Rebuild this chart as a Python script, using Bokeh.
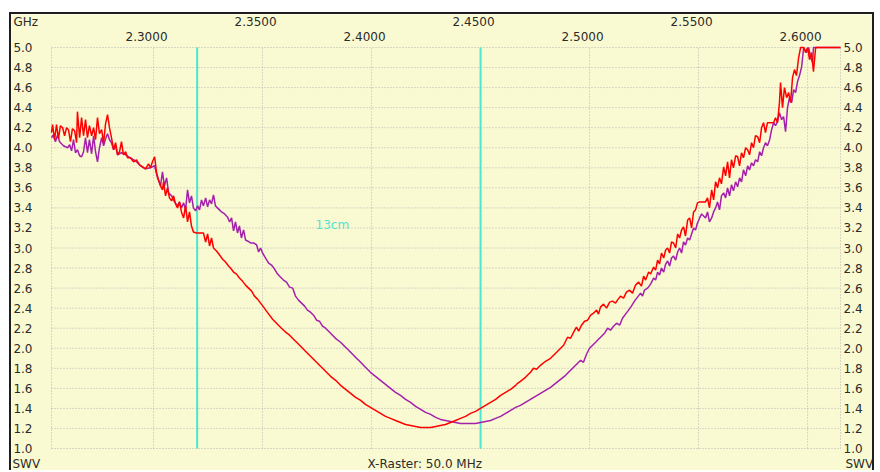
from bokeh.plotting import figure
from bokeh.models import Range1d
from bokeh.core.properties import value
from bokeh.embed import file_html
from bokeh.resources import INLINE

# ---------------- data (frequency in MHz, SWR) ----------------
red_points = [
    (2253.2, 4.15), (2253.7, 4.23), (2254.6, 4.08), (2255.5, 4.23), (2256.4, 4.09), (2257.3, 4.22),
    (2258.3, 4.20), (2259.2, 4.12), (2260.1, 4.20), (2261.0, 4.18), (2261.9, 4.06), (2262.8, 4.19),
    (2263.8, 4.17), (2264.7, 4.05), (2265.1, 4.36), (2266.1, 4.10), (2267.0, 4.30), (2267.9, 4.12),
    (2268.8, 4.28), (2269.7, 4.10), (2270.6, 4.22), (2271.6, 4.12), (2272.5, 4.20), (2273.4, 4.08),
    (2274.3, 4.30), (2275.2, 4.14), (2276.2, 4.18), (2277.1, 4.05), (2278.0, 4.24), (2278.9, 4.33),
    (2279.8, 4.20), (2280.7, 4.10), (2281.7, 3.98), (2282.6, 4.05), (2283.5, 3.93), (2284.4, 3.96),
    (2285.3, 4.06), (2286.2, 3.93), (2287.2, 3.96), (2288.1, 3.90), (2289.4, 3.90), (2290.8, 3.86),
    (2292.2, 3.88), (2293.6, 3.83), (2295.0, 3.81), (2296.3, 3.79), (2297.7, 3.84), (2298.6, 3.80),
    (2299.5, 3.86), (2300.5, 3.91), (2301.4, 3.75), (2302.3, 3.68), (2303.2, 3.62), (2304.1, 3.58),
    (2304.6, 3.66), (2305.5, 3.52), (2306.4, 3.60), (2307.3, 3.50), (2308.3, 3.47), (2309.2, 3.52),
    (2310.1, 3.44), (2311.0, 3.40), (2311.9, 3.46), (2312.8, 3.36), (2313.8, 3.30), (2314.7, 3.42),
    (2315.6, 3.26), (2316.5, 3.36), (2317.4, 3.22), (2318.3, 3.16), (2319.7, 3.15), (2321.6, 3.15),
    (2322.9, 3.15), (2323.9, 3.06), (2324.8, 3.14), (2325.7, 3.02), (2326.6, 3.10), (2327.5, 3.00),
    (2328.9, 2.97), (2330.3, 2.93), (2331.6, 2.89), (2333.0, 2.86), (2334.4, 2.82), (2335.3, 2.80),
    (2336.7, 2.76), (2338.1, 2.74), (2339.4, 2.70), (2340.8, 2.67), (2342.2, 2.63), (2343.6, 2.60),
    (2345.0, 2.57), (2346.3, 2.52), (2347.7, 2.49), (2349.1, 2.45), (2350.5, 2.41), (2351.8, 2.37),
    (2353.2, 2.33), (2354.6, 2.29), (2356.0, 2.26), (2357.3, 2.23), (2358.7, 2.20), (2360.6, 2.16),
    (2362.4, 2.13), (2364.2, 2.09), (2366.1, 2.05), (2367.9, 2.01), (2369.7, 1.97), (2372.0, 1.92),
    (2374.3, 1.87), (2376.6, 1.82), (2378.9, 1.77), (2381.2, 1.72), (2383.5, 1.68), (2385.8, 1.63),
    (2388.1, 1.59), (2390.4, 1.55), (2392.7, 1.51), (2395.0, 1.48), (2397.2, 1.44), (2399.5, 1.41),
    (2401.8, 1.38), (2404.1, 1.35), (2406.4, 1.32), (2408.7, 1.30), (2411.0, 1.28), (2413.3, 1.26),
    (2415.6, 1.24), (2417.9, 1.23), (2420.2, 1.22), (2422.5, 1.21), (2424.8, 1.21), (2427.1, 1.21),
    (2429.4, 1.22), (2431.6, 1.23), (2433.9, 1.24), (2436.2, 1.26), (2438.5, 1.28), (2440.8, 1.30),
    (2443.1, 1.32), (2445.4, 1.35), (2447.7, 1.37), (2450.0, 1.40), (2452.3, 1.43), (2454.6, 1.46),
    (2456.9, 1.49), (2459.2, 1.53), (2461.5, 1.56), (2463.8, 1.59), (2466.1, 1.63), (2467.0, 1.65),
    (2468.3, 1.67), (2470.6, 1.71), (2472.9, 1.76), (2474.3, 1.80), (2475.7, 1.79), (2477.5, 1.83),
    (2479.8, 1.87), (2482.1, 1.90), (2483.5, 1.93), (2484.9, 1.96), (2486.7, 2.00), (2488.1, 2.03),
    (2489.9, 2.11), (2491.3, 2.10), (2492.7, 2.16), (2494.0, 2.21), (2495.0, 2.17), (2496.3, 2.23),
    (2497.7, 2.27), (2499.1, 2.28), (2500.5, 2.33), (2501.8, 2.35), (2503.2, 2.38), (2504.1, 2.34),
    (2505.0, 2.41), (2506.4, 2.44), (2507.8, 2.40), (2509.2, 2.46), (2510.5, 2.47), (2511.9, 2.45),
    (2512.8, 2.48), (2514.2, 2.52), (2515.6, 2.50), (2516.9, 2.56), (2518.3, 2.58), (2519.7, 2.55),
    (2521.1, 2.63), (2522.5, 2.66), (2523.8, 2.62), (2524.8, 2.72), (2525.7, 2.68), (2527.1, 2.76),
    (2528.0, 2.74), (2529.4, 2.81), (2530.3, 2.78), (2531.2, 2.88), (2532.1, 2.84), (2533.0, 2.95),
    (2534.0, 2.90), (2534.9, 2.98), (2535.8, 3.00), (2536.7, 2.95), (2537.6, 3.06), (2538.5, 3.05),
    (2539.5, 3.00), (2540.4, 3.14), (2541.3, 3.10), (2542.2, 3.18), (2543.1, 3.21), (2544.0, 3.12),
    (2545.0, 3.28), (2545.9, 3.30), (2546.8, 3.20), (2547.7, 3.36), (2548.6, 3.38), (2549.5, 3.45),
    (2550.5, 3.46), (2551.8, 3.46), (2553.2, 3.46), (2554.1, 3.50), (2555.0, 3.40), (2556.0, 3.58),
    (2556.9, 3.48), (2557.8, 3.66), (2558.7, 3.60), (2559.6, 3.70), (2560.5, 3.64), (2561.5, 3.81),
    (2562.4, 3.72), (2563.3, 3.86), (2564.2, 3.70), (2565.1, 3.88), (2566.0, 3.80), (2567.0, 3.92),
    (2567.9, 3.91), (2568.8, 3.82), (2569.7, 3.95), (2570.6, 3.90), (2571.6, 4.00), (2572.5, 3.98),
    (2573.4, 3.93), (2574.3, 4.05), (2575.2, 4.00), (2576.1, 4.12), (2577.1, 4.11), (2578.0, 4.05),
    (2578.9, 4.20), (2579.8, 4.25), (2580.7, 4.15), (2581.6, 4.25), (2583.0, 4.25), (2584.4, 4.25),
    (2585.3, 4.30), (2586.2, 4.25), (2587.1, 4.45), (2587.6, 4.65), (2588.5, 4.40), (2589.4, 4.60),
    (2590.4, 4.50), (2591.3, 4.55), (2592.2, 4.45), (2593.1, 4.70), (2594.0, 4.78), (2594.9, 4.72),
    (2595.9, 4.90), (2596.8, 5.00), (2598.2, 5.00), (2599.1, 4.95), (2600.0, 5.00), (2600.9, 4.88),
    (2601.8, 4.95), (2602.7, 4.76), (2603.7, 5.00), (2615.1, 5.00),
]

purple_points = [
    (2253.2, 4.10), (2254.1, 4.13), (2255.0, 4.06), (2256.0, 4.13), (2256.9, 4.06), (2257.8, 4.04),
    (2258.7, 4.02), (2259.6, 4.01), (2260.6, 4.00), (2261.5, 4.03), (2262.4, 3.97), (2263.3, 4.08),
    (2264.2, 3.95), (2265.1, 3.98), (2266.1, 3.92), (2267.0, 3.91), (2267.9, 3.96), (2268.8, 4.10),
    (2269.7, 3.95), (2270.6, 4.08), (2271.6, 3.94), (2272.5, 4.12), (2273.4, 3.96), (2274.3, 3.86),
    (2275.2, 4.00), (2276.2, 4.10), (2277.1, 4.02), (2278.0, 4.09), (2278.9, 4.14), (2279.8, 4.08),
    (2280.7, 4.05), (2281.7, 3.98), (2282.6, 4.02), (2283.5, 3.93), (2285.3, 3.95), (2287.2, 3.93),
    (2289.4, 3.90), (2291.7, 3.87), (2294.0, 3.82), (2296.3, 3.79), (2298.6, 3.80), (2300.5, 3.82),
    (2301.8, 3.70), (2303.2, 3.62), (2304.1, 3.76), (2305.0, 3.62), (2306.0, 3.70), (2306.9, 3.55),
    (2308.3, 3.52), (2309.6, 3.46), (2311.0, 3.42), (2311.9, 3.46), (2312.8, 3.40), (2313.8, 3.45),
    (2314.7, 3.38), (2315.6, 3.58), (2316.5, 3.45), (2317.4, 3.52), (2318.3, 3.40), (2319.3, 3.37),
    (2320.2, 3.42), (2321.1, 3.38), (2322.0, 3.48), (2322.9, 3.42), (2323.9, 3.50), (2324.8, 3.41),
    (2325.7, 3.48), (2326.6, 3.44), (2327.5, 3.53), (2328.4, 3.42), (2329.8, 3.39), (2331.2, 3.36),
    (2332.6, 3.34), (2333.9, 3.31), (2334.9, 3.26), (2335.8, 3.30), (2336.7, 3.17), (2337.6, 3.26),
    (2338.5, 3.15), (2339.4, 3.22), (2340.3, 3.10), (2341.3, 3.18), (2342.2, 3.08), (2343.1, 3.07),
    (2344.5, 3.05), (2345.9, 3.05), (2347.3, 3.03), (2348.2, 2.96), (2349.1, 3.00), (2350.0, 2.95),
    (2351.4, 2.90), (2352.8, 2.85), (2354.1, 2.83), (2355.5, 2.79), (2356.9, 2.74), (2358.2, 2.71),
    (2359.6, 2.68), (2361.0, 2.66), (2362.4, 2.61), (2363.8, 2.60), (2365.1, 2.52), (2366.5, 2.48),
    (2367.9, 2.45), (2369.3, 2.42), (2370.6, 2.38), (2372.0, 2.36), (2373.4, 2.33), (2374.8, 2.28),
    (2376.1, 2.27), (2377.5, 2.22), (2378.9, 2.20), (2380.3, 2.17), (2382.1, 2.13), (2383.9, 2.09),
    (2385.8, 2.06), (2387.6, 2.02), (2389.5, 1.98), (2391.3, 1.94), (2393.1, 1.90), (2395.0, 1.86),
    (2397.2, 1.81), (2399.5, 1.76), (2401.8, 1.72), (2404.1, 1.68), (2406.4, 1.64), (2408.7, 1.60),
    (2411.0, 1.56), (2413.3, 1.53), (2415.6, 1.49), (2417.9, 1.46), (2420.2, 1.42), (2422.5, 1.39),
    (2424.8, 1.36), (2427.1, 1.34), (2429.4, 1.31), (2431.6, 1.29), (2433.9, 1.28), (2436.2, 1.27),
    (2438.5, 1.26), (2440.8, 1.25), (2443.1, 1.25), (2445.4, 1.25), (2447.7, 1.25), (2450.0, 1.26),
    (2452.3, 1.27), (2454.6, 1.28), (2456.9, 1.30), (2459.2, 1.32), (2461.5, 1.35), (2463.8, 1.38),
    (2466.1, 1.41), (2468.3, 1.43), (2470.6, 1.46), (2472.9, 1.49), (2475.2, 1.52), (2477.5, 1.55),
    (2479.8, 1.58), (2482.1, 1.61), (2484.4, 1.65), (2486.7, 1.69), (2489.0, 1.73), (2491.3, 1.78),
    (2493.6, 1.83), (2495.9, 1.88), (2497.2, 1.86), (2498.6, 1.94), (2500.0, 2.00), (2501.4, 2.03),
    (2502.8, 2.06), (2504.1, 2.09), (2505.5, 2.12), (2506.9, 2.15), (2508.3, 2.20), (2509.6, 2.18),
    (2511.0, 2.22), (2512.4, 2.25), (2513.8, 2.23), (2515.1, 2.30), (2516.5, 2.34), (2517.9, 2.38),
    (2519.2, 2.42), (2520.6, 2.47), (2522.0, 2.51), (2523.4, 2.55), (2524.3, 2.52), (2525.2, 2.58),
    (2526.6, 2.60), (2528.0, 2.64), (2529.4, 2.70), (2530.3, 2.68), (2531.2, 2.76), (2532.1, 2.73),
    (2533.0, 2.80), (2534.0, 2.76), (2534.9, 2.84), (2535.8, 2.87), (2536.7, 2.82), (2537.6, 2.90),
    (2538.5, 2.92), (2539.5, 2.88), (2540.4, 2.96), (2541.3, 3.00), (2542.2, 2.95), (2543.1, 3.06),
    (2544.0, 3.03), (2545.0, 3.10), (2545.9, 3.08), (2546.8, 3.14), (2547.7, 3.20), (2548.6, 3.18),
    (2549.5, 3.25), (2550.5, 3.30), (2551.4, 3.34), (2552.3, 3.32), (2553.2, 3.30), (2554.1, 3.36),
    (2555.0, 3.26), (2556.0, 3.30), (2556.9, 3.36), (2557.8, 3.40), (2558.7, 3.46), (2559.6, 3.38),
    (2560.5, 3.52), (2561.5, 3.55), (2562.4, 3.50), (2563.3, 3.60), (2564.2, 3.52), (2565.1, 3.63),
    (2566.0, 3.57), (2567.0, 3.66), (2567.9, 3.61), (2568.8, 3.70), (2569.7, 3.66), (2570.6, 3.78),
    (2571.6, 3.72), (2572.5, 3.82), (2573.4, 3.78), (2574.3, 3.85), (2575.2, 3.82), (2576.1, 3.88),
    (2577.1, 3.86), (2578.0, 3.96), (2578.9, 3.92), (2579.8, 4.00), (2580.7, 4.05), (2581.6, 4.02),
    (2582.6, 4.08), (2583.5, 4.18), (2584.4, 4.25), (2585.3, 4.22), (2586.2, 4.26), (2587.1, 4.35),
    (2588.1, 4.28), (2589.0, 4.31), (2589.9, 4.16), (2590.8, 4.40), (2591.7, 4.50), (2592.7, 4.45),
    (2593.6, 4.58), (2594.5, 4.55), (2595.4, 4.66), (2596.3, 4.72), (2597.3, 4.81), (2598.2, 5.00),
    (2599.5, 4.95), (2600.5, 5.00), (2601.4, 4.90), (2602.3, 4.85), (2602.7, 5.00), (2603.7, 5.00),
    (2615.1, 5.00),
]

freq_range_ghz = [2.2532, 2.6151]      # plotted sweep span
swr_range = [1.0, 5.0]
x_ticks_lower = [2.30, 2.40, 2.50, 2.60]
x_ticks_upper = [2.35, 2.45, 2.55]
y_ticks = [1.0, 1.2, 1.4, 1.6, 1.8, 2.0, 2.2, 2.4, 2.6, 2.8, 3.0,
           3.2, 3.4, 3.6, 3.8, 4.0, 4.2, 4.4, 4.6, 4.8, 5.0]
marker_freqs = [2.32, 2.45]
band_label = "13cm"
band_label_pos = [2.3743, 3.23]
freq_unit_text = "GHz"
swr_unit_text = "SWV"
raster_text = "X-Raster: 50.0 MHz"

# ---------------- styling / layout ----------------
FONT = "DejaVu Sans"
FS = "12px"
TEXT = "#2b2b2b"
BG = "#fafad2"
GRID = "#b4b4b4"
CYAN = "#4ce6d2"
RED = "#ff0000"
PURPLE = "#a51fad"
CANVAS_W, CANVAS_H = 865, 458
M_LEFT, M_RIGHT, M_TOP, M_BOTTOM = 40, 36, 33, 24     # px around the plot area
LABEL_SHIFT_PX = 7                                   # x tick labels sit left of their grid line

kx = (freq_range_ghz[1] - freq_range_ghz[0]) / (CANVAS_W - M_LEFT - M_RIGHT)
ky = (swr_range[1] - swr_range[0]) / (CANVAS_H - M_TOP - M_BOTTOM)
X0, X1 = freq_range_ghz
Y0, Y1 = swr_range

red_f = [f / 1000.0 for f, _ in red_points]
red_s = [s for _, s in red_points]
pur_f = [f / 1000.0 for f, _ in purple_points]
pur_s = [s for _, s in purple_points]

p = figure(width=CANVAS_W, height=CANVAS_H,
           x_range=Range1d(X0 - M_LEFT * kx, X1 + M_RIGHT * kx),
           y_range=Range1d(Y0 - M_BOTTOM * ky, Y1 + M_TOP * ky),
           output_backend="svg", toolbar_location=None,
           x_axis_location=None, y_axis_location=None,
           min_border=0, min_border_left=0, min_border_right=0,
           min_border_top=0, min_border_bottom=0,
           background_fill_color=BG, border_fill_color=BG,
           outline_line_color=None, margin=(12, 0, 0, 9))
p.styles = {"border-top": "2px solid #1e1e1e", "border-left": "2px solid #1e1e1e",
            "border-right": "2px solid #1e1e1e"}
p.xgrid.visible = False
p.ygrid.visible = False

# dotted grid and plot-area border
vgrid = [X0] + sorted(x_ticks_lower + x_ticks_upper) + [X1]
p.segment(x0=vgrid, y0=[Y0] * len(vgrid), x1=vgrid, y1=[Y1] * len(vgrid),
          line_color=GRID, line_dash="1 2", line_width=1)
p.segment(x0=[X0] * len(y_ticks), y0=y_ticks, x1=[X1] * len(y_ticks), y1=y_ticks,
          line_color=GRID, line_dash="1 2", line_width=1)

# marker lines
p.segment(x0=marker_freqs, y0=[Y0] * len(marker_freqs), x1=marker_freqs,
          y1=[Y1] * len(marker_freqs), line_color=CYAN, line_width=2)

# curves
p.line(pur_f, pur_s, line_color=PURPLE, line_width=1.5)
p.line(red_f, red_s, line_color=RED, line_width=1.5)

txt = dict(text_font=value(FONT), text_font_size=value(FS), text_color=TEXT,
           text_baseline="middle")

# x tick labels, two staggered rows above the plot area
p.text(x=[t - LABEL_SHIFT_PX * kx for t in x_ticks_lower], y=[Y1 + 11 * ky] * len(x_ticks_lower),
       text=[f"{t:.4f}" for t in x_ticks_lower], text_align="center", **txt)
p.text(x=[t - LABEL_SHIFT_PX * kx for t in x_ticks_upper], y=[Y1 + 26 * ky] * len(x_ticks_upper),
       text=[f"{t:.4f}" for t in x_ticks_upper], text_align="center", **txt)

# y tick labels left and right
p.text(x=[X0 - 19 * kx] * len(y_ticks), y=y_ticks, text=[f"{t:.1f}" for t in y_ticks],
       text_align="right", **txt)
p.text(x=[X1 + 3 * kx] * len(y_ticks), y=y_ticks, text=[f"{t:.1f}" for t in y_ticks],
       text_align="left", **txt)

# unit / raster texts
p.text(x=[X0 - 38 * kx], y=[Y1 + 25.5 * ky], text=[freq_unit_text], text_align="left", **txt)
p.text(x=[X0 - 39 * kx, X1 + 5 * kx], y=[Y0 - 15 * ky] * 2, text=[swr_unit_text] * 2,
       text_align="left", **txt)
p.text(x=[X0 + 316 * kx], y=[Y0 - 15 * ky], text=[raster_text], text_align="left", **txt)

# band label
p.text(x=[band_label_pos[0]], y=[band_label_pos[1]], text=[band_label], text_align="left",
       text_font=value(FONT), text_font_size=value(FS), text_color=CYAN, text_baseline="middle")

open("out.html", "w").write(file_html(p, INLINE))
